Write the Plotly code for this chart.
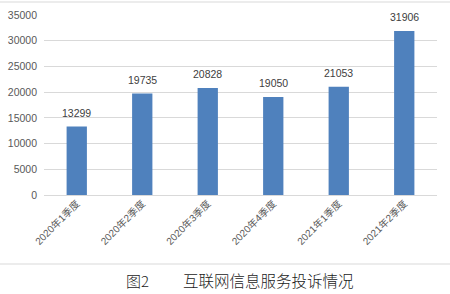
import plotly.graph_objects as go

categories = ["2020年1季度", "2020年2季度", "2020年3季度", "2020年4季度", "2021年1季度", "2021年2季度"]
values = [13299, 19735, 20828, 19050, 21053, 31906]
y_ticks = [0, 5000, 10000, 15000, 20000, 25000, 30000, 35000]
y_tick_labels = [str(v) for v in y_ticks]

font_family = "Liberation Sans, Noto Sans CJK SC, sans-serif"

fig = go.Figure(go.Bar(
    x=categories, y=values,
    marker=dict(color="#4f81bd", line=dict(width=0)),
    cliponaxis=False,
))

value_labels = [
    dict(x=c, y=v, xref="x", yref="y", text=str(v), showarrow=False,
         xanchor="center", yanchor="bottom", yshift=6,
         font=dict(size=10.5, color="#404040", family=font_family))
    for c, v in zip(categories, values)
]

fig.update_layout(
    width=450, height=294,
    margin=dict(l=44, r=13, t=15, b=99),
    paper_bgcolor="white", plot_bgcolor="white",
    bargap=0.69,
    showlegend=False,
    xaxis=dict(tickangle=-45, tickfont=dict(size=10, color="#595959", family=font_family),
               showgrid=False, showline=False, ticks="", automargin=False),
    yaxis=dict(range=[0, 35000], tickvals=y_ticks, ticktext=y_tick_labels, showgrid=True, gridcolor="#d9d9d9",
               gridwidth=1, zeroline=True, zerolinecolor="#d9d9d9", zerolinewidth=1,
               tickfont=dict(size=10.5, color="#595959", family=font_family),
               ticks="", ticklabelstandoff=6, automargin=False),
    shapes=[
        dict(type="line", xref="paper", yref="paper", x0=-0.2, x1=1.1, y0=1 + 13 / 180, y1=1 + 13 / 180,
             line=dict(color="#d9d9d9", width=1)),
        dict(type="line", xref="paper", yref="paper", x0=-0.2, x1=1.1, y0=-(264 - 195) / 180, y1=-(264 - 195) / 180,
             line=dict(color="#d9d9d9", width=1)),
    ],
    annotations=value_labels + [
        dict(text="图2", xref="paper", yref="paper", x=(137 - 44) / 393, y=-(280 - 195) / 180,
             xanchor="center", yanchor="middle", showarrow=False,
             font=dict(size=15, color="#1a1a1a", family="Noto Sans CJK SC", weight=300)),
        dict(text="互联网信息服务投诉情况", xref="paper", yref="paper", x=(268 - 44) / 393, y=-(280 - 195) / 180,
             xanchor="center", yanchor="middle", showarrow=False,
             font=dict(size=15.5, color="#1a1a1a", family="Noto Sans CJK SC", weight=300)),
    ],
)

fig.write_html("out.html")
